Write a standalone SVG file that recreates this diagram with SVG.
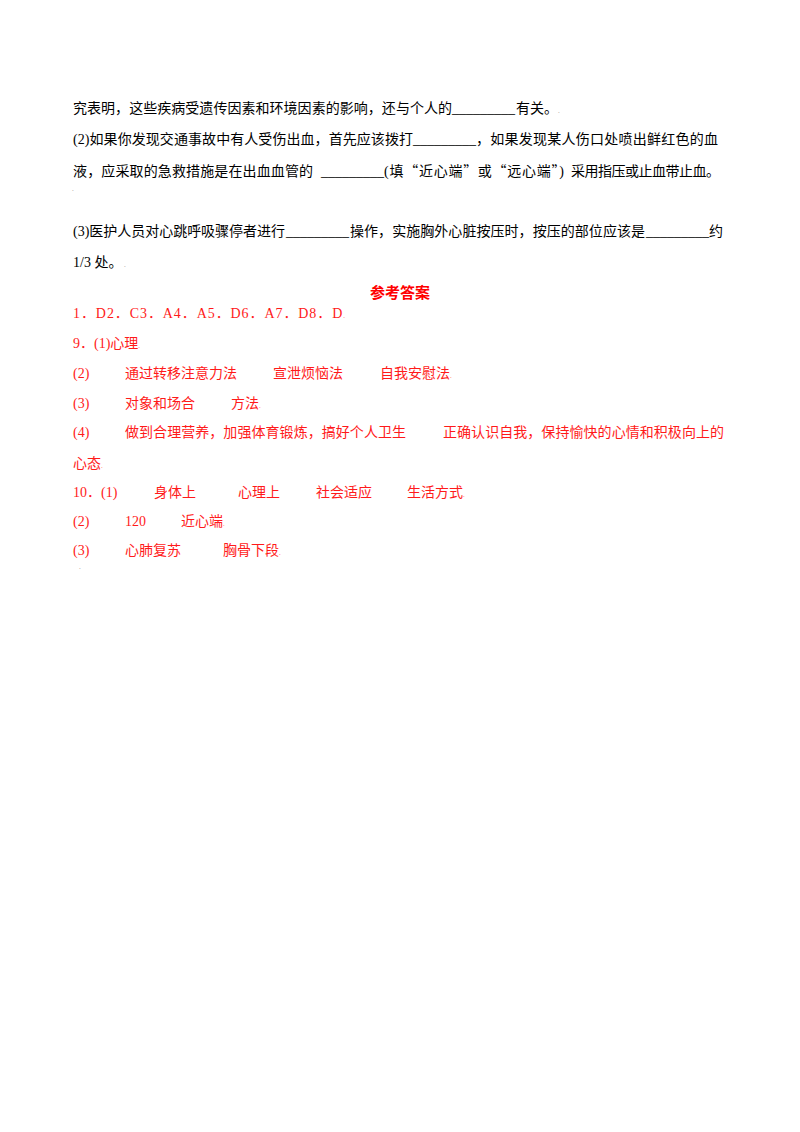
<svg xmlns="http://www.w3.org/2000/svg" width="800" height="1132" viewBox="0 0 800 1132">
<style>
text { font-family: "Liberation Serif", "Noto Sans CJK SC", serif; font-size: 14px; fill: #000; }
.q { font-family: "Noto Sans CJK SC", sans-serif; }
.r { fill: #ff1a1a; }
.h { font-weight: bold; font-size: 15px; fill: #ff0000; }
.dot { font-size: 7px; fill: #999; }
.rd { font-size: 7px; fill: #ff6666; }
</style>
<rect x="0" y="0" width="800" height="1132" fill="#ffffff"/>
<g id="questions">
  <text x="73" y="113" textLength="379" lengthAdjust="spacing">究表明，这些疾病受遗传因素和环境因素的影响，还与个人的</text>
  <text x="452" y="113">_________</text>
  <text x="516" y="113">有关。</text>
  <text class="dot" x="558" y="113">.</text>

  <text x="73" y="144" textLength="340" lengthAdjust="spacing">(2)如果你发现交通事故中有人受伤出血，首先应该拨打</text>
  <text x="413" y="144">_________</text>
  <text x="476" y="144" textLength="242" lengthAdjust="spacing">，如果发现某人伤口处喷出鲜红色的血</text>

  <text x="73" y="176" textLength="240" lengthAdjust="spacing">液，应采取的急救措施是在出血血管的</text>
  <text x="321" y="176">_________</text>
  <text x="384" y="176" textLength="180" lengthAdjust="spacing">(填<tspan class="q">“</tspan>近心端<tspan class="q">”</tspan>或<tspan class="q">“</tspan>远心端<tspan class="q">”</tspan>)</text>
  <text x="571" y="176" textLength="149" lengthAdjust="spacing">采用指压或止血带止血。</text>
  <text class="dot" x="72" y="191">.</text>

  <text x="73" y="236" textLength="212" lengthAdjust="spacing">(3)医护人员对心跳呼吸骤停者进行</text>
  <text x="286" y="236">_________</text>
  <text x="350" y="236" textLength="295" lengthAdjust="spacing">操作，实施胸外心脏按压时，按压的部位应该是</text>
  <text x="646" y="236">_________</text>
  <text x="709" y="236">约</text>

  <text x="73" y="267">1/3 处。</text>
  <text class="dot" x="124" y="267">.</text>
</g>
<g id="answers">
  <text class="h" x="400" y="298" text-anchor="middle">参考答案</text>
  <text class="r" x="73" y="318" textLength="272" lengthAdjust="spacing">1．D2．C3．A4．A5．D6．A7．D8．D<tspan class="rd">.</tspan></text>

  <text class="r" x="73" y="348">9．(1)心理<tspan class="rd">.</tspan></text>

  <text class="r" x="73" y="378">(2)</text>
  <text class="r" x="125" y="378">通过转移注意力法</text>
  <text class="r" x="273" y="378">宣泄烦恼法</text>
  <text class="r" x="380" y="378">自我安慰法<tspan class="rd">.</tspan></text>

  <text class="r" x="73" y="408">(3)</text>
  <text class="r" x="125" y="408">对象和场合</text>
  <text class="r" x="231" y="408">方法<tspan class="rd">.</tspan></text>

  <text class="r" x="73" y="437">(4)</text>
  <text class="r" x="125" y="437" textLength="281" lengthAdjust="spacing">做到合理营养，加强体育锻炼，搞好个人卫生</text>
  <text class="r" x="443" y="437" textLength="281" lengthAdjust="spacing">正确认识自我，保持愉快的心情和积极向上的</text>
  <text class="r" x="73" y="468">心态<tspan class="rd">.</tspan></text>

  <text class="r" x="73" y="497">10．(1)</text>
  <text class="r" x="154" y="497">身体上</text>
  <text class="r" x="238" y="497">心理上</text>
  <text class="r" x="316" y="497">社会适应</text>
  <text class="r" x="407" y="497">生活方式<tspan class="rd">.</tspan></text>

  <text class="r" x="73" y="526">(2)</text>
  <text class="r" x="125" y="526">120</text>
  <text class="r" x="181" y="526">近心端<tspan class="rd">.</tspan></text>

  <text class="r" x="73" y="555">(3)</text>
  <text class="r" x="125" y="555">心肺复苏</text>
  <text class="r" x="223" y="555">胸骨下段<tspan class="rd">.</tspan></text>
  <text class="dot" x="79" y="569">.</text>
</g>
</svg>
